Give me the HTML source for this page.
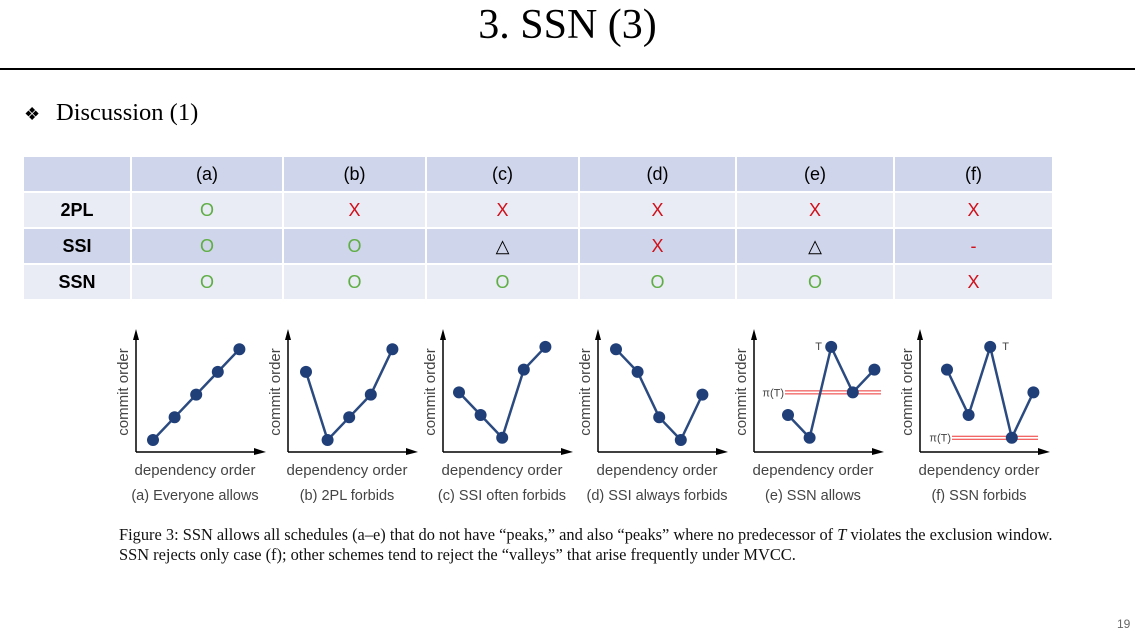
<!DOCTYPE html>
<html><head><meta charset="utf-8"><style>
body{margin:0;width:1135px;height:639px;background:#fff;position:relative;overflow:hidden;font-family:"Liberation Serif",serif}
.abs{position:absolute}
table{position:absolute;left:22px;top:155px;border-collapse:collapse;font-family:"Liberation Sans",sans-serif;font-size:18px}
td{border:2px solid #fff;text-align:center;padding:0;height:34px}
tr.d td{background:#cfd5ea}tr.l td{background:#e9ebf5}
.g{color:#5fae45}.r{color:#d0101a}.k{font-weight:bold}
</style></head><body>
<div class="abs" style="left:0;width:1135px;top:1px;text-align:center;font-size:42px">3. SSN (3)</div>
<div class="abs" style="left:0;top:68px;width:1135px;height:2px;background:#000"></div>
<div class="abs" style="left:24px;top:104px;font-size:18px">❖</div>
<div class="abs" style="left:56px;top:99px;font-size:24.5px">Discussion (1)</div>
<table>
<tr class="d"><td style="width:106px"></td><td style="width:150px">(a)</td><td style="width:141px">(b)</td><td style="width:151px">(c)</td><td style="width:155px">(d)</td><td style="width:156px">(e)</td><td style="width:157px">(f)</td></tr>
<tr class="l"><td class="k">2PL</td><td class="g">O</td><td class="r">X</td><td class="r">X</td><td class="r">X</td><td class="r">X</td><td class="r">X</td></tr>
<tr class="d"><td class="k">SSI</td><td class="g">O</td><td class="g">O</td><td>△</td><td class="r">X</td><td>△</td><td class="r">-</td></tr>
<tr class="l"><td class="k">SSN</td><td class="g">O</td><td class="g">O</td><td class="g">O</td><td class="g">O</td><td class="g">O</td><td class="r">X</td></tr>
</table>
<svg class="abs" id="fig" style="left:0;top:0" width="1135" height="639"></svg>
<div class="abs" style="left:119px;top:525px;font-size:16.4px;line-height:20px;color:#111;white-space:nowrap">Figure 3: SSN allows all schedules (a–e) that do not have “peaks,” and also “peaks” where no predecessor of <i>T</i> violates the exclusion window.<br>SSN rejects only case (f); other schemes tend to reject the “valleys” that arise frequently under MVCC.</div>
<div class="abs" style="left:1117px;top:617px;font-size:12px;color:#666;font-family:'Liberation Sans',sans-serif">19</div>
<script>
const panelAxisX=[136,288,443,598,754,920];
const panelStart=[17,18,16,18,34,27];
const captions=["(a) Everyone allows","(b) 2PL forbids","(c) SSI often forbids","(d) SSI always forbids","(e) SSN allows","(f) SSN forbids"];
const seriesA=[1,2,3,4,5];
const seriesB=[4,1,2,3,5];
const seriesC=[3.1,2.1,1.1,4.1,5.1];
const seriesD=[5,4,2,1,3];
const seriesE=[2.1,1.1,5.1,3.1,4.1];
const seriesF=[4.1,2.1,5.1,1.1,3.1];
const peakIndex=[null,null,null,null,2,2];
const piLevel=[null,null,null,null,3.1,1.1];
const allSeries=[seriesA,seriesB,seriesC,seriesD,seriesE,seriesF];
const NS="http://www.w3.org/2000/svg";
const svg=document.getElementById('fig');
function yS(v){return 462.7-22.7*v;}
function xS(p,i){return panelAxisX[p]+panelStart[p]+i*21.6;}
function mk(t,a){const e=document.createElementNS(NS,t);for(const k in a)e.setAttribute(k,a[k]);svg.appendChild(e);return e;}
allSeries.forEach((s,p)=>{
  const ax=panelAxisX[p];
  const ya=mk('line',{x1:ax,y1:452,x2:ax,y2:334,stroke:'#000','stroke-width':1.5});
  
  
  mk('polygon',{points:`${ax-3},${340} ${ax},${329} ${ax+3},${340}`,fill:'#000'});
  const xa=mk('line',{x1:ax,y1:452,x2:ax+122,y2:452,stroke:'#000','stroke-width':1.5});
  
  
  mk('polygon',{points:`${ax+118},${448} ${ax+130},${452} ${ax+118},${455}`,fill:'#000'});
  const yt=mk('text',{x:ax-8,y:392,transform:`rotate(-90 ${ax-8} 392)`,'text-anchor':'middle','font-family':'Liberation Sans, sans-serif','font-size':15,fill:'#444'});
  yt.textContent='commit order';
  
  
  const xt=mk('text',{x:ax+59,y:475,'text-anchor':'middle','font-family':'Liberation Sans, sans-serif','font-size':15,fill:'#444'});
  xt.textContent='dependency order';
  
  
  const cp=mk('text',{x:ax+59,y:500,'text-anchor':'middle','font-family':'Liberation Sans, sans-serif','font-size':14.5,fill:'#444'});
  cp.textContent=captions[p];
  
  
  if(piLevel[p]!==null){
    const py=yS(piLevel[p]);
    const x0=ax+(p===4?31:32),x1=ax+(p===4?127:118);
    mk('line',{x1:x0,y1:py-1.5,x2:x1,y2:py-1.5,stroke:'#e33','stroke-width':1});
    mk('line',{x1:x0,y1:py+1.5,x2:x1,y2:py+1.5,stroke:'#e33','stroke-width':1});
    const pt=mk('text',{x:x0-1,y:py+4,'text-anchor':'end','font-family':'Liberation Sans, sans-serif','font-size':11,fill:'#444'});
    pt.textContent='π(T)';
    
    
  }
  const pts=s.map((v,i)=>xS(p,i)+','+yS(v)).join(' ');
  const pl=mk('polyline',{points:pts,fill:'none',stroke:'#2a4a80','stroke-width':2.5});
  
  
  s.forEach((v,i)=>{
    const c=mk('circle',{cx:xS(p,i),cy:yS(v),r:6,fill:'#203f78'});
    
    
  });
  if(peakIndex[p]!==null){
    const i=peakIndex[p];
    const tt=mk('text',{x:xS(p,i)+(p===4?-16:12),y:yS(s[i])+3,'font-family':'Liberation Sans, sans-serif','font-size':11,fill:'#444'});
    tt.textContent='T';
    
    
  }
});
</script>
</body></html>
